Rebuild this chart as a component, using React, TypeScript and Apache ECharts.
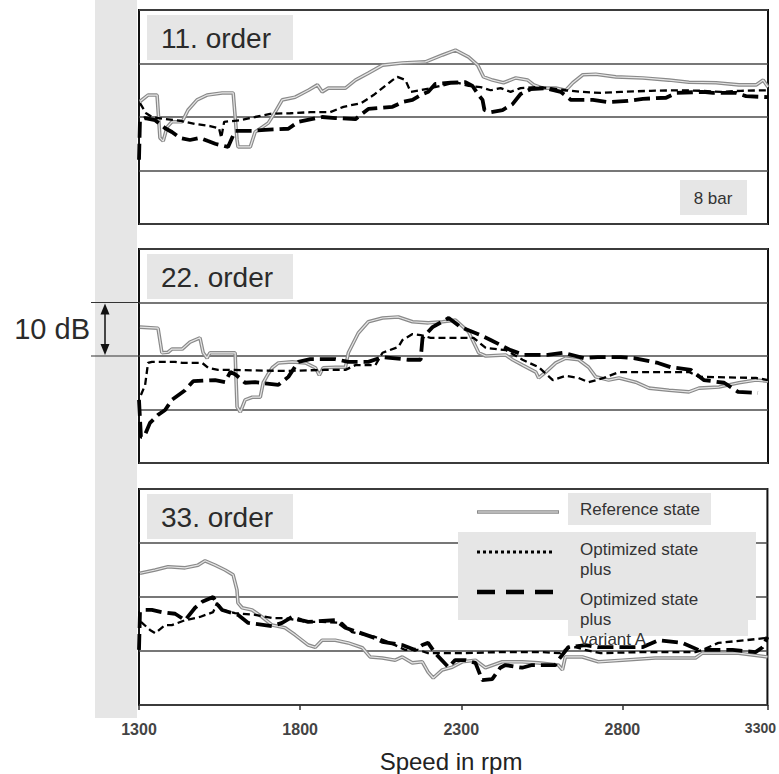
import React, { useEffect, useRef } from "react";
import * as echarts from "echarts";

// ---- data (speed in rpm, level in dB relative to panel bottom; 10 dB per grid step) ----
const xTickValues = [1300, 1800, 2300, 2800, 3250];
const xTickLabels = ["1300", "1800", "2300", "2800", "3300"];
const panelTitles = ["11. order", "22. order", "33. order"];
const seriesNames = ["Reference state", "Optimized state plus", "Optimized state plus variant A"];
const pressureNote = "8 bar";
const scaleNote = "10 dB";
const xAxisTitle = "Speed in rpm";

const ref11 = [
  [1303, 22.9], [1328, 24.1], [1356, 24.1], [1365, 16.1], [1375, 15.5], [1387, 18.1], [1402, 19.1], [1434, 19.1],
  [1452, 21.3], [1480, 23.2], [1511, 24.1], [1558, 24.5], [1592, 24.5], [1604, 15.7], [1607, 14.4], [1645, 14.4],
  [1660, 17.2], [1682, 18.1], [1701, 18.9], [1722, 20.9], [1744, 23.2], [1784, 23.7], [1825, 25.0], [1853, 26.0],
  [1868, 24.7], [1887, 25.4], [1940, 25.4], [1971, 26.9], [2011, 28.2], [2055, 29.7], [2117, 30.1], [2188, 30.3],
  [2241, 31.6], [2281, 32.5], [2322, 31.2], [2350, 29.7], [2368, 27.5], [2396, 26.9], [2430, 26.4], [2468, 27.3],
  [2505, 26.9], [2524, 26.0], [2552, 25.4], [2592, 25.4], [2623, 25.0], [2645, 26.4], [2676, 27.9], [2716, 28.0],
  [2778, 27.5], [2862, 27.3], [2943, 26.9], [3005, 26.5], [3089, 26.4], [3160, 26.0], [3213, 26.0], [3235, 26.9],
  [3250, 25.6],
];
const opt11 = [
  [1303, 22.6], [1322, 20.7], [1340, 20.0], [1381, 19.6], [1427, 19.3], [1474, 18.7], [1520, 18.3], [1548, 17.9],
  [1555, 16.1], [1564, 19.1], [1614, 19.4], [1660, 20.0], [1707, 20.6], [1769, 20.7], [1831, 20.9], [1893, 20.9],
  [1934, 21.9], [1989, 22.6], [2027, 24.1], [2086, 26.9], [2101, 27.5], [2126, 26.9], [2142, 24.7], [2173, 25.0],
  [2235, 25.8], [2281, 26.5], [2322, 25.8], [2359, 25.6], [2390, 25.0], [2421, 25.4], [2452, 24.7], [2483, 25.4],
  [2530, 25.6], [2576, 25.4], [2623, 25.0], [2670, 24.7], [2732, 24.5], [2794, 24.7], [2887, 24.9], [2980, 25.0],
  [3042, 24.9], [3104, 24.7], [3166, 24.9], [3250, 25.0],
];
const var11 = [
  [1300, 12.0], [1303, 19.4], [1319, 19.8], [1350, 19.4], [1381, 17.9], [1402, 17.2], [1427, 16.1], [1458, 15.7],
  [1489, 16.1], [1514, 15.5], [1536, 15.0], [1576, 14.4], [1598, 17.4], [1651, 17.4], [1691, 17.6], [1763, 17.8],
  [1794, 19.1], [1868, 20.0], [1909, 19.8], [1971, 19.6], [2011, 21.5], [2086, 21.9], [2117, 22.8], [2148, 23.2],
  [2173, 24.1], [2197, 24.7], [2219, 26.2], [2266, 26.4], [2312, 26.5], [2334, 25.8], [2353, 24.1], [2365, 23.2],
  [2371, 21.3], [2390, 20.9], [2427, 21.3], [2458, 22.4], [2483, 24.3], [2514, 25.2], [2561, 25.4], [2607, 24.7],
  [2639, 23.2], [2707, 23.2], [2753, 22.8], [2816, 23.0], [2862, 23.4], [2934, 23.6], [2965, 24.5], [3048, 24.7],
  [3079, 24.5], [3151, 24.5], [3182, 23.9], [3250, 23.7],
];

const ref22 = [
  [1303, 25.4], [1359, 25.2], [1371, 20.6], [1390, 20.7], [1402, 21.3], [1434, 21.3], [1458, 22.6], [1489, 23.4],
  [1499, 20.6], [1511, 19.6], [1520, 20.6], [1558, 20.6], [1598, 20.6], [1604, 10.5], [1614, 9.5], [1629, 11.8],
  [1651, 12.3], [1676, 12.3], [1685, 15.0], [1698, 16.4], [1713, 17.8], [1732, 18.7], [1775, 18.9], [1816, 18.7],
  [1847, 17.8], [1859, 16.4], [1871, 17.8], [1909, 17.9], [1940, 17.9], [1949, 20.6], [1980, 24.3], [2011, 26.4],
  [2055, 27.1], [2104, 27.3], [2148, 26.4], [2197, 26.2], [2241, 26.4], [2281, 26.7], [2322, 24.5], [2353, 20.6],
  [2375, 20.0], [2437, 20.2], [2458, 19.3], [2489, 18.3], [2530, 17.0], [2539, 15.9], [2561, 17.0], [2592, 18.7],
  [2623, 19.6], [2663, 19.3], [2694, 17.9], [2716, 16.1], [2756, 15.5], [2788, 15.9], [2840, 15.1], [2881, 14.0],
  [2943, 13.6], [3005, 13.3], [3036, 14.0], [3098, 14.2], [3160, 15.0], [3213, 15.5], [3250, 15.3],
];
const opt22 = [
  [1306, 12.7], [1319, 14.6], [1328, 18.7], [1340, 18.9], [1412, 18.9], [1434, 18.7], [1496, 18.7], [1514, 17.8],
  [1545, 17.4], [1589, 17.4], [1753, 17.2], [1868, 17.4], [1940, 17.4], [1971, 18.3], [2033, 18.3], [2055, 20.6],
  [2104, 21.7], [2117, 23.0], [2148, 24.1], [2173, 23.9], [2204, 23.4], [2337, 23.4], [2375, 21.5], [2437, 21.1],
  [2489, 19.3], [2539, 17.9], [2583, 15.5], [2623, 16.3], [2663, 15.9], [2694, 15.1], [2741, 15.9], [2788, 17.0],
  [3005, 17.0], [3036, 16.1], [3213, 15.9], [3250, 15.5],
];
const var22 = [
  [1300, 11.8], [1306, 4.9], [1316, 4.9], [1334, 7.5], [1359, 9.0], [1381, 9.9], [1402, 11.8], [1443, 13.6],
  [1468, 15.3], [1536, 15.5], [1567, 15.1], [1583, 17.0], [1598, 16.6], [1629, 15.0], [1660, 15.1], [1732, 14.6],
  [1763, 16.1], [1794, 18.9], [1831, 19.4], [1909, 19.4], [1949, 18.9], [2011, 18.9], [2055, 19.8], [2135, 19.3],
  [2173, 19.3], [2179, 23.4], [2210, 25.4], [2260, 27.1], [2297, 25.4], [2359, 23.9], [2390, 23.0], [2452, 21.1],
  [2493, 20.2], [2567, 20.2], [2617, 20.6], [2679, 19.6], [2722, 19.8], [2794, 19.8], [2834, 19.6], [2909, 18.7],
  [2949, 17.9], [3011, 17.4], [3051, 15.5], [3114, 15.0], [3157, 13.3], [3219, 13.1],
];

const ref33 = [
  [1303, 24.4], [1350, 25.0], [1390, 25.6], [1443, 25.4], [1483, 25.9], [1505, 26.7], [1536, 25.9], [1567, 25.0],
  [1592, 24.1], [1604, 21.3], [1607, 18.9], [1620, 18.0], [1651, 17.6], [1682, 16.3], [1713, 14.8], [1753, 14.3],
  [1784, 13.0], [1825, 11.1], [1847, 10.7], [1868, 12.0], [1909, 12.0], [1949, 11.5], [1993, 10.6], [2017, 8.9],
  [2055, 8.7], [2095, 8.3], [2117, 8.9], [2148, 7.8], [2179, 8.0], [2197, 6.1], [2213, 5.0], [2241, 6.5],
  [2272, 7.0], [2303, 8.0], [2344, 8.3], [2375, 6.9], [2427, 8.0], [2489, 8.0], [2539, 7.8], [2601, 7.4],
  [2614, 6.5], [2623, 8.9], [2676, 8.9], [2725, 8.0], [2800, 8.3], [2902, 8.7], [3027, 8.7], [3048, 9.6],
  [3160, 9.6], [3250, 8.9],
];
const opt33 = [
  [1306, 15.4], [1334, 13.9], [1350, 13.3], [1381, 14.8], [1402, 14.8], [1443, 15.7], [1489, 16.3], [1530, 17.2],
  [1542, 18.9], [1558, 17.6], [1598, 17.0], [1660, 16.7], [1713, 16.1], [1753, 16.1], [1816, 15.4], [1868, 15.4],
  [1930, 15.2], [1961, 13.5], [2033, 12.6], [2080, 11.5], [2126, 10.2], [2166, 10.2], [2197, 9.6], [2312, 9.6],
  [2421, 9.8], [2545, 9.8], [2607, 9.6], [2632, 10.6], [2654, 10.7], [2685, 10.2], [2732, 9.6], [2862, 9.8],
  [3027, 9.8], [3048, 10.2], [3098, 11.5], [3182, 12.0], [3244, 12.4], [3250, 13.0],
];
const var33 = [
  [1300, 10.2], [1303, 17.2], [1319, 17.6], [1340, 17.6], [1371, 17.2], [1412, 16.9], [1443, 15.7], [1474, 18.0],
  [1496, 19.1], [1530, 20.0], [1545, 18.5], [1558, 17.6], [1607, 16.7], [1639, 15.2], [1713, 14.6], [1744, 15.2],
  [1775, 16.3], [1806, 15.7], [1825, 15.4], [1909, 15.7], [1940, 14.3], [2033, 12.4], [2055, 11.7], [2117, 11.1],
  [2157, 10.2], [2179, 11.1], [2197, 11.5], [2219, 9.6], [2260, 7.0], [2281, 8.3], [2312, 8.3], [2344, 7.8],
  [2365, 4.6], [2396, 4.8], [2421, 6.9], [2437, 7.4], [2489, 6.9], [2520, 7.4], [2592, 7.4], [2601, 8.3],
  [2632, 10.7], [2685, 11.1], [2725, 10.7], [2862, 10.7], [2912, 12.0], [2986, 11.5], [3036, 10.2], [3142, 10.2],
  [3213, 9.8], [3235, 10.7], [3250, 12.6],
];

const panels = [
  { ref: ref11, opt: opt11, varA: var11 },
  { ref: ref22, opt: opt22, varA: var22 },
  { ref: ref33, opt: opt33, varA: var33 },
];

const FONT = "'Liberation Sans', Arial, Helvetica, sans-serif";
const GRID_LEFT = 139;
const GRID_WIDTH = 629;
const GRID_TOPS = [10, 249, 489];
const GRID_HEIGHTS = [214, 214, 216];

function buildOption() {
  const grids = GRID_TOPS.map((top, i) => ({
    left: GRID_LEFT,
    width: GRID_WIDTH,
    top,
    height: GRID_HEIGHTS[i],
    show: true,
    borderColor: "#111",
    borderWidth: 2,
    backgroundColor: "transparent",
    containLabel: false,
  }));

  const xAxes = GRID_TOPS.map((_, i) => ({
    type: "value",
    gridIndex: i,
    min: 1300,
    max: 3250,
    show: i === 2,
    splitLine: { show: false },
    axisLine: { show: false },
    axisTick: {
      show: true,
      customValues: xTickValues,
      length: 5,
      lineStyle: { color: "#333", width: 1.5 },
    },
    axisLabel: {
      customValues: xTickValues,
      margin: 16,
      fontSize: 16,
      fontWeight: "bold",
      color: "#444",
      fontFamily: FONT,
      formatter: (v: number) => {
        const idx = xTickValues.indexOf(v);
        const label = idx >= 0 ? xTickLabels[idx] : String(v);
        return idx === xTickValues.length - 1 ? "{last|" + label + "}" : label;
      },
      rich: {
        last: { fontSize: 14, fontWeight: "bold", color: "#444", fontFamily: FONT, padding: [0, 14, 0, 0] },
      },
    },
  }));

  const yAxes = GRID_TOPS.map((_, i) => ({
    type: "value",
    gridIndex: i,
    min: 0,
    max: 40,
    interval: 10,
    axisLine: { show: false },
    axisTick: { show: false },
    axisLabel: { show: false },
    splitLine: { show: true, lineStyle: { color: "#4a4a4a", width: 1.5 } },
  }));

  const series: any[] = [];
  panels.forEach((p, i) => {
    const common = {
      type: "line",
      xAxisIndex: i,
      yAxisIndex: i,
      showSymbol: false,
      symbol: "none",
      silent: true,
      emphasis: { disabled: true },
      clip: true,
    };
    series.push({ ...common, name: seriesNames[0], data: p.ref, z: 2, lineStyle: { color: "#8a8a8a", width: 3.6 } });
    series.push({ ...common, name: seriesNames[0] + " core", data: p.ref, z: 3, lineStyle: { color: "#e6e6e6", width: 1.2 } });
    series.push({ ...common, name: seriesNames[1], data: p.opt, z: 4, lineStyle: { color: "#000", width: 2.3, type: [7, 4], cap: "butt" } });
    series.push({ ...common, name: seriesNames[2], data: p.varA, z: 5, lineStyle: { color: "#000", width: 3.8, type: [16, 6], cap: "butt" } });
  });

  return {
    animation: false,
    backgroundColor: "#fff",
    textStyle: { fontFamily: FONT },
    grid: grids,
    xAxis: xAxes,
    yAxis: yAxes,
    series,
  };
}

function buildGraphic(y30: number, y20: number) {
  const txt = "#2b2b2b";
  const g: any[] = [];
  // grey strip on the left
  g.push({ type: "rect", z: -10, shape: { x: 95, y: 0, width: 42, height: 718 }, style: { fill: "#e6e6e6" } });

  // panel title boxes
  GRID_TOPS.forEach((top, i) => {
    g.push({ type: "rect", z: 50, shape: { x: 147, y: top + 5, width: 146, height: 45 }, style: { fill: "#e6e6e6" } });
    g.push({
      type: "text", z: 51, x: 161, y: top + 28,
      style: { text: panelTitles[i], fontSize: 28, fontFamily: FONT, fill: txt, align: "left", verticalAlign: "middle" },
    });
  });

  // 8 bar note
  g.push({ type: "rect", z: 50, shape: { x: 680, y: 180, width: 67, height: 35 }, style: { fill: "#e6e6e6" } });
  g.push({
    type: "text", z: 51, x: 713, y: 198,
    style: { text: pressureNote, fontSize: 17, fontFamily: FONT, fill: "#333", align: "center", verticalAlign: "middle" },
  });

  // 10 dB scale marker
  g.push({ type: "line", z: 50, shape: { x1: 91, y1: y30, x2: 139, y2: y30 }, style: { stroke: "#333", lineWidth: 1.2 } });
  g.push({ type: "line", z: 50, shape: { x1: 91, y1: y20, x2: 139, y2: y20 }, style: { stroke: "#333", lineWidth: 1.2 } });
  g.push({ type: "line", z: 50, shape: { x1: 105, y1: y30 + 8, x2: 105, y2: y20 - 8 }, style: { stroke: "#111", lineWidth: 1.5 } });
  g.push({ type: "polygon", z: 50, shape: { points: [[105, y30 + 1], [100.5, y30 + 12], [109.5, y30 + 12]] }, style: { fill: "#111" } });
  g.push({ type: "polygon", z: 50, shape: { points: [[105, y20 - 1], [100.5, y20 - 12], [109.5, y20 - 12]] }, style: { fill: "#111" } });
  g.push({
    type: "text", z: 50, x: 90, y: (y30 + y20) / 2,
    style: { text: scaleNote, fontSize: 29, fontFamily: FONT, fill: txt, align: "right", verticalAlign: "middle" },
  });

  // legend
  g.push({ type: "rect", z: 60, shape: { x: 458, y: 532, width: 298, height: 88 }, style: { fill: "#e6e6e6" } });
  g.push({ type: "rect", z: 60, shape: { x: 568, y: 587, width: 180, height: 49 }, style: { fill: "#e6e6e6" } });
  g.push({ type: "rect", z: 60, shape: { x: 568, y: 493, width: 143, height: 32 }, style: { fill: "#e6e6e6" } });
  g.push({ type: "line", z: 61, shape: { x1: 477, y1: 512, x2: 559, y2: 512 }, style: { stroke: "#8a8a8a", lineWidth: 3.6 } });
  g.push({ type: "line", z: 62, shape: { x1: 478, y1: 512, x2: 558, y2: 512 }, style: { stroke: "#e6e6e6", lineWidth: 1.2 } });
  g.push({ type: "line", z: 61, shape: { x1: 477, y1: 552, x2: 554, y2: 552 }, style: { stroke: "#000", lineWidth: 3, lineDash: [3, 3] } });
  g.push({ type: "line", z: 61, shape: { x1: 477, y1: 592, x2: 553, y2: 592 }, style: { stroke: "#000", lineWidth: 4.5, lineDash: [18, 11] } });
  const legStyle = { fontSize: 17, fontFamily: FONT, fill: "#333", align: "left", verticalAlign: "top", lineHeight: 20 };
  g.push({ type: "text", z: 63, x: 580, y: 499, style: { ...legStyle, text: "Reference state" } });
  g.push({ type: "text", z: 63, x: 580, y: 539, style: { ...legStyle, text: "Optimized state\nplus" } });
  g.push({ type: "text", z: 63, x: 580, y: 589, style: { ...legStyle, text: "Optimized state\nplus\nvariant A" } });

  // x axis title
  g.push({
    type: "text", z: 50, x: 451, y: 761,
    style: { text: xAxisTitle, fontSize: 24, fontFamily: FONT, fill: "#222", align: "center", verticalAlign: "middle" },
  });
  return g;
}

export default function App() {
  const ref = useRef<HTMLDivElement>(null);
  useEffect(() => {
    if (!ref.current) return;
    const chart = echarts.init(ref.current, undefined, { renderer: "svg" });
    chart.setOption(buildOption() as any);
    const y30 = chart.convertToPixel({ yAxisIndex: 1 } as any, 30) as unknown as number;
    const y20 = chart.convertToPixel({ yAxisIndex: 1 } as any, 20) as unknown as number;
    chart.setOption({ graphic: buildGraphic(y30, y20) } as any);
    return () => chart.dispose();
  }, []);
  return (
    <div
      ref={ref}
      style={{ position: "absolute", left: 0, top: 0, width: 779, height: 774, background: "#fff" }}
    />
  );
}
